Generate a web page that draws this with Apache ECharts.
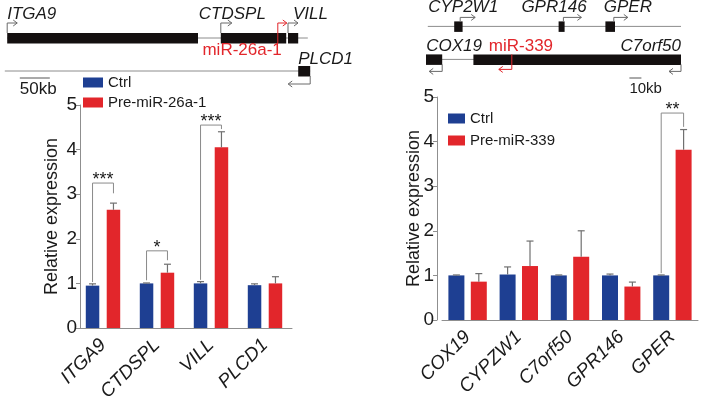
<!DOCTYPE html>
<html><head><meta charset="utf-8">
<script src="https://cdn.jsdelivr.net/npm/echarts@6/dist/echarts.min.js"></script>
<style>html,body{margin:0;padding:0;background:#fff}#c{width:702px;height:406px}</style>
</head><body><div id="c"></div>
<script>
// ---------------- data ----------------
// left panel: miR-26a-1 host locus
const leftCats = ['ITGA9', 'CTDSPL', 'VILL', 'PLCD1'];
const leftCtrl = [0.95, 1.00, 1.00, 0.96];
const leftCtrlSD = [0.04, 0.01, 0.04, 0.03];
const leftPre = [2.65, 1.24, 4.05, 1.00];
const leftPreSD = [0.15, 0.19, 0.35, 0.15];
const leftSigCat = [0, 1, 2];
const leftSigTop = [3.25, 1.73, 4.55];
const leftSigCtrlEnd = [1.03, 1.07, 1.08];
const leftSigPreEnd = [3.02, 1.52, 4.46];
const leftSigText = ['***', '*', '***'];

// right panel: miR-339 host locus
const rightCats = ['COX19', 'CYPZW1', 'C7orf50', 'GPR146', 'GPER'];
const rightCtrl = [1.00, 1.02, 1.00, 1.00, 1.00];
const rightCtrlSD = [0.01, 0.17, 0.01, 0.03, 0.01];
const rightPre = [0.86, 1.21, 1.42, 0.75, 3.82];
const rightPreSD = [0.18, 0.56, 0.58, 0.10, 0.45];
const rightSigCat = [4];
const rightSigTop = [4.64];
const rightSigCtrlEnd = [1.05];
const rightSigPreEnd = [4.33];
const rightSigText = ['**'];

// gene maps (kb)
const leftTrackStart = [12, 8];
const leftTrackEnd = [513, 517];
const leftTrackRow = [1, 2];
const leftGeneNames = ['ITGA9', 'CTDSPL', 'VILL', 'PLCD1'];
const leftGeneStart = [12, 368, 480, 497];
const leftGeneEnd = [330, 477, 497, 517];
const leftGeneRow = [1, 1, 1, 2];
const leftGeneStrand = [1, 1, 1, -1];
const leftGeneTss = [12, 368, 480, 517];
const leftMirNames = ['miR-26a-1'];
const leftMirPos = [463];
const leftMirRow = [1];
const leftMirStrand = [1];
const leftScaleKb = 50;
const leftScaleStartKb = 33;

const rightTrackStart = [64, 62.5];
const rightTrackEnd = [275, 275];
const rightTrackRow = [1, 2];
const rightGeneNames = ['CYP2W1', 'GPR146', 'GPER', 'COX19', 'C7orf50'];
const rightGeneStart = [86, 173, 212, 62.5, 102];
const rightGeneEnd = [93, 178, 220, 76, 275];
const rightGeneRow = [1, 1, 1, 2, 2];
const rightGeneStrand = [1, 1, 1, -1, -1];
const rightGeneTss = [91, 177, 219, 76, 275];
const rightMirNames = ['miR-339'];
const rightMirPos = [134];
const rightMirRow = [2];
const rightMirStrand = [-1];
const rightScaleKb = 10;
const rightScaleStartKb = 232;

// ---------------- styles ----------------
const BLUE = '#1e3f92', RED = '#e2262b', AX = '#8f8f8f', TXT = '#1a1a1a', ERR = '#707070';
const FONT = '"Liberation Sans", Arial, sans-serif';
const labelStyle = {
  'ITGA9': {dx: 0, dy: -24, align: 'left'},
  'CTDSPL': {dx: -22, dy: -24, align: 'left'},
  'VILL': {dx: 5, dy: -24, align: 'left'},
  'PLCD1': {dx: -12, dy: -12, align: 'left'},
  'miR-26a-1': {dx: 4, dy: 12, align: 'right'},
  'CYP2W1': {dx: -32, dy: -19, align: 'left'},
  'GPR146': {dx: -42, dy: -19, align: 'left'},
  'GPER': {dx: -10, dy: -19, align: 'left'},
  'COX19': {dx: -16, dy: -13, align: 'left'},
  'C7orf50': {dx: 0, dy: -13, align: 'right'},
  'miR-339': {dx: -23, dy: -13, align: 'left'}
};
const arrowStyle = {
  left: {rise: 15, drop: 13, len: {'ITGA9': 10, 'CTDSPL': 11, 'VILL': 10, 'PLCD1': 22, 'miR-26a-1': 9}},
  right: {rise: 9, drop: 12, len: {'CYP2W1': 15, 'GPR146': 18, 'GPER': 14, 'COX19': 13, 'C7orf50': 12, 'miR-339': 13}}
};

function arrowShapes(x, y, strand, rise, drop, len, color, startOff) {
  if (strand > 0) {
    const yt = y - rise;
    return [
      {type: 'polyline', shape: {points: [[x, y + startOff], [x, yt], [x + len, yt]]}, style: {stroke: color, lineWidth: 1, fill: null}},
      {type: 'polyline', shape: {points: [[x + len - 4, yt - 3], [x + len, yt], [x + len - 4, yt + 3]]}, style: {stroke: color, lineWidth: 1, fill: null}}
    ];
  }
  const yb = y + drop;
  return [
    {type: 'polyline', shape: {points: [[x, y + startOff], [x, yb], [x - len, yb]]}, style: {stroke: color, lineWidth: 1, fill: null}},
    {type: 'polyline', shape: {points: [[x - len + 4, yb - 3], [x - len, yb], [x - len + 4, yb + 3]]}, style: {stroke: color, lineWidth: 1, fill: null}}
  ];
}

function trackSeries(idx, starts, ends, rows) {
  return {
    type: 'custom', xAxisIndex: idx, yAxisIndex: idx, silent: true, clip: false, z: 1,
    data: starts.map((s, i) => [s, ends[i], rows[i]]),
    renderItem: (p, api) => {
      const a = api.coord([api.value(0), api.value(2)]);
      const b = api.coord([api.value(1), api.value(2)]);
      return {type: 'line', shape: {x1: a[0], y1: a[1], x2: b[0], y2: b[1]}, style: {stroke: '#8c8c8c', lineWidth: 1}};
    }
  };
}

function geneSeries(idx, side, names, starts, ends, rows, strands, tss) {
  const st = arrowStyle[side];
  return {
    type: 'custom', xAxisIndex: idx, yAxisIndex: idx, silent: true, clip: false, z: 2,
    data: names.map((n, i) => [starts[i], ends[i], rows[i], strands[i], tss[i]]),
    renderItem: (p, api) => {
      const name = names[p.dataIndex];
      const a = api.coord([api.value(0), api.value(2)]);
      const b = api.coord([api.value(1), api.value(2)]);
      const t = api.coord([api.value(4), api.value(2)]);
      const strand = api.value(3);
      const y = a[1];
      const ls = labelStyle[name];
      const children = [
        {type: 'rect', shape: {x: a[0], y: y - 5, width: b[0] - a[0], height: 10.5}, style: {fill: '#141010'}}
      ].concat(arrowShapes(t[0], y, strand, st.rise, st.drop, st.len[name], '#6a6a6a', strand > 0 ? -5 : 5));
      children.push({type: 'text', x: t[0] + ls.dx, y: y + ls.dy,
        style: {text: name, fill: TXT, font: 'italic 17px ' + FONT, align: ls.align, verticalAlign: 'middle'}});
      return {type: 'group', children};
    }
  };
}

function mirSeries(idx, side, names, pos, rows, strands) {
  const st = arrowStyle[side];
  return {
    type: 'custom', xAxisIndex: idx, yAxisIndex: idx, silent: true, clip: false, z: 3,
    data: names.map((n, i) => [pos[i], rows[i], strands[i]]),
    renderItem: (p, api) => {
      const name = names[p.dataIndex];
      const c = api.coord([api.value(0), api.value(1)]);
      const strand = api.value(2);
      const ls = labelStyle[name];
      const children = arrowShapes(c[0], c[1], strand, st.rise, side === 'right' ? 10 : st.drop, st.len[name], RED, strand > 0 ? 5 : -5);
      children.push({type: 'text', x: c[0] + ls.dx, y: c[1] + ls.dy,
        style: {text: name, fill: RED, font: '17px ' + FONT, align: ls.align, verticalAlign: 'middle'}});
      return {type: 'group', children};
    }
  };
}

function scaleSeries(idx, startKb, kb, row, dyLine, fontSize) {
  return {
    type: 'custom', xAxisIndex: idx, yAxisIndex: idx, silent: true, clip: false, z: 2,
    data: [[startKb, startKb + kb, row]],
    renderItem: (p, api) => {
      const a = api.coord([api.value(0), api.value(2)]);
      const b = api.coord([api.value(1), api.value(2)]);
      const y = a[1] + dyLine;
      return {type: 'group', children: [
        {type: 'line', shape: {x1: a[0], y1: y, x2: b[0], y2: y}, style: {stroke: '#555', lineWidth: 1}},
        {type: 'text', x: a[0], y: y + 11, style: {text: kb + 'kb', fill: TXT, font: fontSize + 'px ' + FONT, align: 'left', verticalAlign: 'middle'}}
      ]};
    }
  };
}

function errSeries(idx, means, sds, which, half) {
  return {
    type: 'custom', xAxisIndex: idx, yAxisIndex: idx, silent: true, z: 5,
    data: means.map((m, i) => [i, m, m + sds[i]]),
    renderItem: (p, api) => {
      const c = api.coord([api.value(0), api.value(1)]);
      const t = api.coord([api.value(0), api.value(2)]);
      const x = c[0] + which * half;
      return {type: 'group', children: [
        {type: 'line', shape: {x1: x, y1: c[1], x2: x, y2: t[1]}, style: {stroke: ERR, lineWidth: 1.2}},
        {type: 'line', shape: {x1: x - 3.5, y1: t[1], x2: x + 3.5, y2: t[1]}, style: {stroke: ERR, lineWidth: 1.2}}
      ]};
    }
  };
}

function sigSeries(idx, cats, tops, ctrlEnds, preEnds, texts, half) {
  return {
    type: 'custom', xAxisIndex: idx, yAxisIndex: idx, silent: true, clip: false, z: 5,
    data: cats.map((c, i) => [c, tops[i], ctrlEnds[i], preEnds[i]]),
    renderItem: (p, api) => {
      const top = api.coord([api.value(0), api.value(1)]);
      const yl = api.coord([api.value(0), api.value(2)])[1];
      const yr = api.coord([api.value(0), api.value(3)])[1];
      const xl = top[0] - half, xr = top[0] + half;
      return {type: 'group', children: [
        {type: 'polyline', shape: {points: [[xl, yl], [xl, top[1]], [xr, top[1]], [xr, yr]]}, style: {stroke: '#8a8a8a', lineWidth: 1, fill: null}},
        {type: 'text', x: (xl + xr) / 2, y: top[1] - 3, style: {text: texts[p.dataIndex], fill: TXT, font: '18px ' + FONT, align: 'center', verticalAlign: 'middle'}}
      ]};
    }
  };
}

const LBW = 13.5, LGAP = 0.55, RBW = 16, RGAP = 0.40;
const LHALF = (LBW + LBW * LGAP) / 2, RHALF = (RBW + RBW * RGAP) / 2;

const hiddenAxis = (gi, min, max, inverse) => ({type: 'value', gridIndex: gi, min, max, inverse: !!inverse, show: false, splitLine: {show: false}});

const catAxis = (gi, data) => ({
  type: 'category', gridIndex: gi, data,
  axisLine: {lineStyle: {color: AX, width: 1}},
  axisTick: {alignWithLabel: true, length: 4, lineStyle: {color: AX}},
  axisLabel: {rotate: 45, fontStyle: 'italic', fontSize: 19, color: TXT, fontFamily: FONT, margin: 14, interval: 0}
});
const valAxis = (gi, offset, nameGap) => ({
  type: 'value', gridIndex: gi, min: 0, max: 5, interval: 1, offset,
  splitLine: {show: false},
  axisLine: {show: true, lineStyle: {color: AX, width: 1}},
  axisTick: {show: true, length: 4, lineStyle: {color: AX}},
  axisLabel: {fontSize: 19, color: TXT, fontFamily: FONT, margin: 3},
  name: 'Relative expression', nameLocation: 'middle', nameGap, nameMoveOverlap: false,
  nameTextStyle: {fontSize: 18, color: TXT, fontFamily: FONT}
});

const option = {
  animation: false,
  backgroundColor: '#fff',
  textStyle: {fontFamily: FONT},
  grid: [
    {left: 0, top: 5, width: 351, height: 99, outerBoundsMode: 'none'},
    {left: 351, top: 0, width: 351, height: 99, outerBoundsMode: 'none'},
    {left: 76, top: 105, width: 216, height: 223, outerBoundsMode: 'none'},
    {left: 442, top: 97, width: 256, height: 223, outerBoundsMode: 'none'}
  ],
  xAxis: [
    hiddenAxis(0, 0, 585),
    hiddenAxis(1, 0, 292.5),
    catAxis(2, leftCats),
    catAxis(3, rightCats)
  ],
  yAxis: [
    hiddenAxis(0, 0, 3, true),
    hiddenAxis(1, 0.2, 3.2, true),
    valAxis(2, -4, 19),
    valAxis(3, 5, 14)
  ],
  legend: [
    {data: ['Ctrl', 'Pre-miR-26a-1'], orient: 'vertical', left: 83, top: 75, itemWidth: 20, itemHeight: 10, itemGap: 5,
     icon: 'rect', padding: 0, textStyle: {fontSize: 15, color: TXT, fontFamily: FONT}, selectedMode: false},
    {data: ['Ctrl', 'Pre-miR-339'], orient: 'vertical', left: 448, top: 111, itemWidth: 17, itemHeight: 10, itemGap: 7,
     icon: 'rect', padding: 0, textStyle: {fontSize: 15, color: TXT, fontFamily: FONT}, selectedMode: false}
  ],
  series: [
    trackSeries(0, leftTrackStart, leftTrackEnd, leftTrackRow),
    geneSeries(0, 'left', leftGeneNames, leftGeneStart, leftGeneEnd, leftGeneRow, leftGeneStrand, leftGeneTss),
    mirSeries(0, 'left', leftMirNames, leftMirPos, leftMirRow, leftMirStrand),
    scaleSeries(0, leftScaleStartKb, leftScaleKb, 2, 7, 17),
    trackSeries(1, rightTrackStart, rightTrackEnd, rightTrackRow),
    geneSeries(1, 'right', rightGeneNames, rightGeneStart, rightGeneEnd, rightGeneRow, rightGeneStrand, rightGeneTss),
    mirSeries(1, 'right', rightMirNames, rightMirPos, rightMirRow, rightMirStrand),
    scaleSeries(1, rightScaleStartKb, rightScaleKb, 2, 18.6, 15),

    {name: 'Ctrl', type: 'bar', xAxisIndex: 2, yAxisIndex: 2, data: leftCtrl, barWidth: LBW, barGap: (LGAP * 100) + '%', itemStyle: {color: BLUE}},
    {name: 'Pre-miR-26a-1', type: 'bar', xAxisIndex: 2, yAxisIndex: 2, data: leftPre, barWidth: LBW, barGap: (LGAP * 100) + '%', itemStyle: {color: RED}},
    errSeries(2, leftCtrl, leftCtrlSD, -1, LHALF),
    errSeries(2, leftPre, leftPreSD, 1, LHALF),
    sigSeries(2, leftSigCat, leftSigTop, leftSigCtrlEnd, leftSigPreEnd, leftSigText, LHALF),

    {name: 'Ctrl', type: 'bar', xAxisIndex: 3, yAxisIndex: 3, data: rightCtrl, barWidth: RBW, barGap: (RGAP * 100) + '%', itemStyle: {color: BLUE}},
    {name: 'Pre-miR-339', type: 'bar', xAxisIndex: 3, yAxisIndex: 3, data: rightPre, barWidth: RBW, barGap: (RGAP * 100) + '%', itemStyle: {color: RED}},
    errSeries(3, rightCtrl, rightCtrlSD, -1, RHALF),
    errSeries(3, rightPre, rightPreSD, 1, RHALF),
    sigSeries(3, rightSigCat, rightSigTop, rightSigCtrlEnd, rightSigPreEnd, rightSigText, RHALF)
  ]
};

const chart = echarts.init(document.getElementById('c'), null, {renderer: 'canvas'});
chart.setOption(option);
</script>
</body></html>
